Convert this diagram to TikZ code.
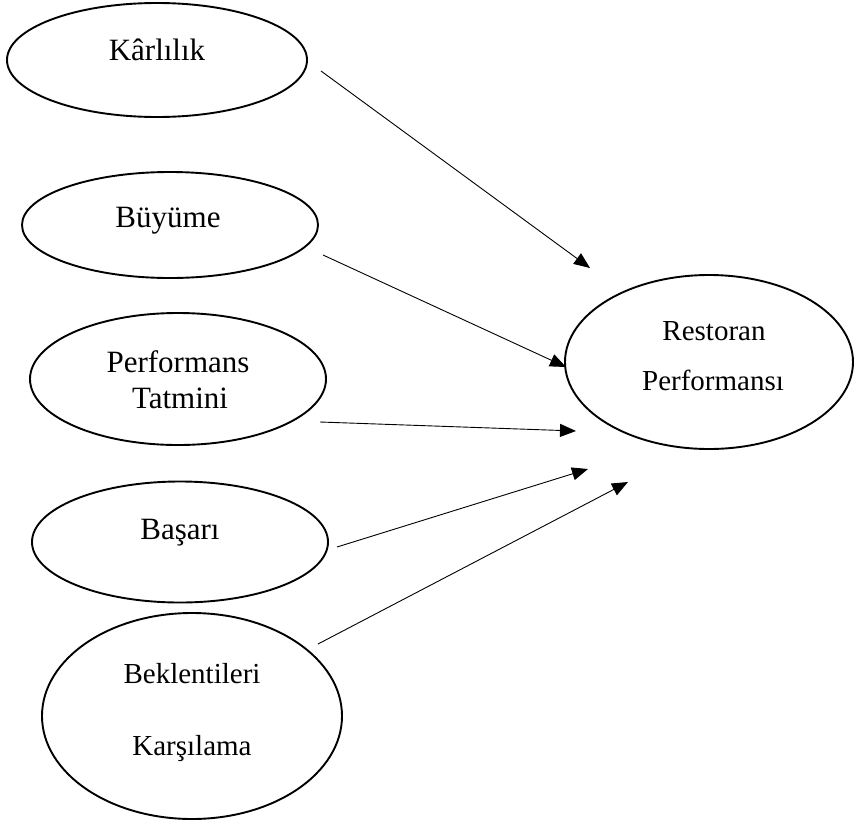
\documentclass[tikz,border=0pt]{standalone}
\usepackage{fontspec}
\setmainfont{Liberation Serif}
\usetikzlibrary{arrows.meta,shapes.geometric}
\tikzset{
  ell/.style={draw,ellipse,line width=1.9pt,inner sep=0pt},
  arr/.style={-{Triangle[length=16pt,width=13pt]},line width=0.9pt},
  lbl/.style={anchor=base,inner sep=0pt,font=\fontsize{31}{36}\selectfont},
  slbl/.style={anchor=base,inner sep=0pt,font=\fontsize{29}{34}\selectfont},
}
\begin{document}
\begin{tikzpicture}[x=1pt,y=-1pt]
  \useasboundingbox (0,0) rectangle (854,825);
  % boyutlar
  \node[ell,minimum width=300pt,minimum height=114pt] (karlilik) at (157,60) {};
  \node[ell,minimum width=296pt,minimum height=106pt] (buyume) at (170,225) {};
  \node[ell,minimum width=296pt,minimum height=132pt] (tatmin) at (178,379) {};
  \node[ell,minimum width=296pt,minimum height=121pt] (basari) at (180,542) {};
  \node[ell,minimum width=300pt,minimum height=206pt] (beklenti) at (192,716) {};
  % sonuc
  \node[ell,minimum width=288pt,minimum height=174pt] (restoran) at (709,362) {};
  % metinler
  \node[lbl] (karlilik-t) at (157,60) {Kârlılık};
  \node[lbl] (buyume-t) at (168,227) {Büyüme};
  \node[lbl] (tatmin-t1) at (178,372) {Performans};
  \node[lbl] (tatmin-t2) at (180,408) {Tatmini};
  \node[lbl] (basari-t) at (180,539) {Başarı};
  \node[slbl] (beklenti-t1) at (192,683) {Beklentileri};
  \node[slbl] (beklenti-t2) at (192,755) {Karşılama};
  \node[slbl] (restoran-t1) at (714,340) {Restoran};
  \node[slbl] (restoran-t2) at (713,390) {Performansı};
  % ok uclari
  \coordinate (karlilik-o) at (321,71);  \coordinate (restoran-a) at (590,268);
  \coordinate (buyume-o) at (323,255);   \coordinate (restoran-b) at (566,367);
  \coordinate (tatmin-o) at (320,422);   \coordinate (restoran-c) at (576,431);
  \coordinate (basari-o) at (337,547);   \coordinate (restoran-d) at (588,469);
  \coordinate (beklenti-o) at (318,644); \coordinate (restoran-e) at (628,482);
  \draw[arr] (karlilik-o) -- (restoran-a);
  \draw[arr] (buyume-o) -- (restoran-b);
  \draw[arr] (tatmin-o) -- (restoran-c);
  \draw[arr] (basari-o) -- (restoran-d);
  \draw[arr] (beklenti-o) -- (restoran-e);
\end{tikzpicture}
\end{document}
